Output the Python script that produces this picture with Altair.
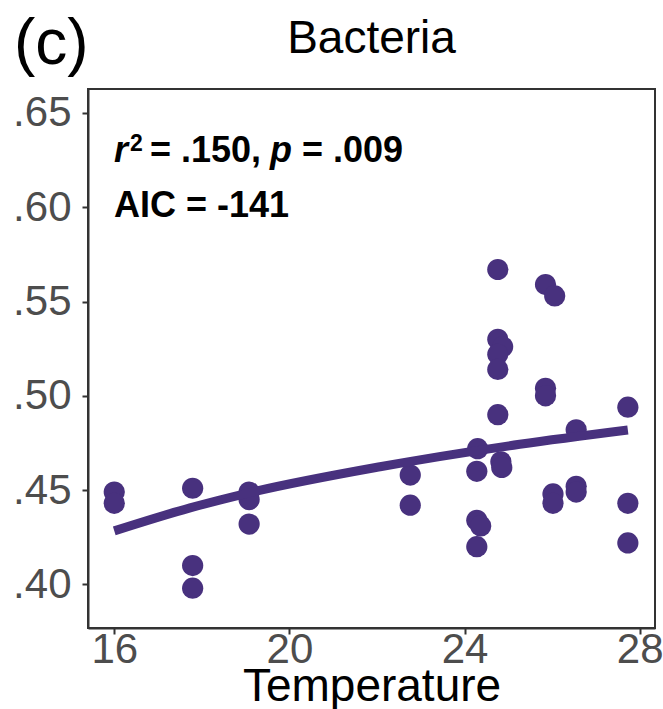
import altair as alt
import pandas as pd

# ---- data ----
temperature = [16.00, 16.00, 17.79, 17.79, 17.79, 19.08, 19.08, 19.08, 22.76, 22.76,
               24.30, 24.28, 24.28, 24.37, 24.28, 24.83, 24.85, 24.76, 24.76, 24.87,
               24.76, 24.76, 24.76, 25.85, 26.06, 25.85, 25.85, 26.55, 26.02, 26.02,
               26.55, 26.55, 27.73, 27.73, 27.73]
proportion = [0.449, 0.443, 0.451, 0.410, 0.398, 0.449, 0.445, 0.432, 0.458, 0.442,
              0.472, 0.460, 0.434, 0.431, 0.420, 0.465, 0.462, 0.567, 0.530, 0.526,
              0.522, 0.514, 0.490, 0.559, 0.553, 0.504, 0.500, 0.482, 0.448, 0.443,
              0.452, 0.449, 0.494, 0.443, 0.422]

fit_temperature = [16.00, 17.73, 19.08, 22.07, 25.26, 27.73]
fit_value = [0.4284, 0.4406, 0.4486, 0.4624, 0.4743, 0.4819]

x_ticks = [16, 20, 24, 28]
y_ticks = [0.40, 0.45, 0.50, 0.55, 0.60, 0.65]

panel_label = "(c)"
title_text = "Bacteria"
x_title = "Temperature"
stat_r = "r"
stat_r_sup = "2"
stat_r_val = "= .150,"
stat_p = "p"
stat_p_val = "= .009"
stat_aic = "AIC = -141"

# ---- chart ----
color = "#48317E"
font = "Liberation Sans"

points_df = pd.DataFrame({"Temperature": temperature, "Value": proportion})
fit_df = pd.DataFrame({"Temperature": fit_temperature, "Value": fit_value})
one_row = pd.DataFrame({"k": [0]})

x_scale = alt.Scale(domain=[15.4, 28.35], nice=False, zero=False)
y_scale = alt.Scale(domain=[0.3769, 0.6627], nice=False, zero=False)

x_enc = alt.X(
    "Temperature:Q", scale=x_scale,
    axis=alt.Axis(values=x_ticks, format="d", title=x_title, titleFontSize=46,
                  titleFont=font, titleFontWeight="normal", titleColor="black",
                  titleBaseline="alphabetic", titleY=72, labelPadding=-5,
                  labelFlush=False),
)
y_enc = alt.Y(
    "Value:Q", scale=y_scale,
    axis=alt.Axis(values=y_ticks, title=None, labelPadding=11, labelFlush=False,
                  labelExpr="replace(format(datum.value, '.2f'), '0.', '.')"),
)

points = alt.Chart(points_df).mark_circle(size=450, opacity=1, color=color).encode(
    x=x_enc, y=y_enc
)
fit = alt.Chart(fit_df).mark_line(strokeWidth=9, color=color, interpolate="monotone").encode(
    x=alt.X("Temperature:Q", scale=x_scale),
    y=alt.Y("Value:Q", scale=y_scale),
)


def label(text, x, y, size, weight="bold", style="normal", align="left"):
    return alt.Chart(one_row).mark_text(
        font=font, fontSize=size, fontWeight=weight, fontStyle=style,
        align=align, baseline="alphabetic", color="black"
    ).encode(x=alt.value(x), y=alt.value(y), text=alt.value(text))


annotations = [
    label(stat_r, 26, 73, 36, style="italic"),
    label(stat_r_sup, 42, 62, 23),
    label(stat_r_val, 62, 73, 36),
    label(stat_p, 182, 73, 36, style="italic"),
    label(stat_p_val, 214, 73, 36),
    label(stat_aic, 26, 128, 36),
    label(panel_label, -74, -25, 64, weight="normal"),
    label(title_text, 283.5, -36, 46, weight="normal", align="center"),
]

chart = alt.layer(points, fit, *annotations).properties(
    width=567,
    height=539,
    autosize=alt.AutoSizeParams(type="none"),
    padding={"left": 88, "top": 89, "right": 8, "bottom": 81},
).configure_view(
    stroke="#333333", strokeWidth=2
).configure_axis(
    grid=False, domainColor="#333333", domainWidth=2, tickColor="#333333",
    tickWidth=2, tickSize=6, labelFont=font, labelFontSize=42, labelColor="#4D4D4D"
)

chart.save("out.html", embed_options={"renderer": "svg", "actions": False})
